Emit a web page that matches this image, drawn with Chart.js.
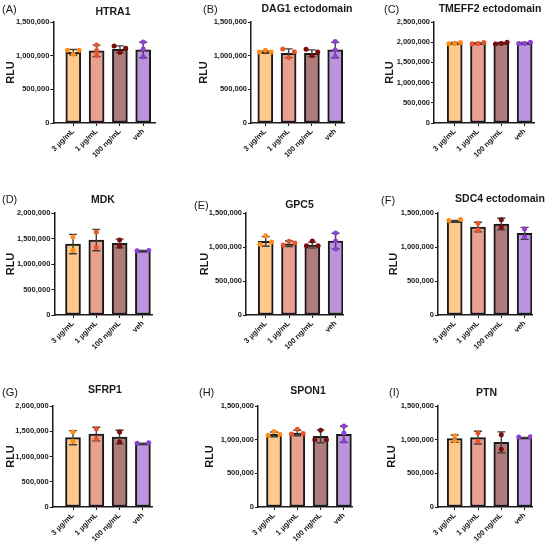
<!DOCTYPE html>
<html>
<head>
<meta charset="utf-8">
<script src="https://cdn.jsdelivr.net/npm/chart.js@4.4.1/dist/chart.umd.min.js"></script>
<style>
  html, body { margin: 0; padding: 0; background: #fff; }
  #wrap { position: relative; width: 546px; height: 543px; font-family: "Liberation Sans", Arial, sans-serif; color: #1a1a1a; overflow: hidden; }
  #wrap canvas { position: absolute; }
  .letter { position: absolute; font-size: 11px; transform: translateY(-50%); white-space: nowrap; }
  .title { position: absolute; font-size: 10.5px; font-weight: bold; transform: translate(-50%, -50%); white-space: nowrap; }
</style>
</head>
<body>
<div id="wrap"></div>
<script>
// groups on the x axis
const categories = ["3 µg/mL", "1 µg/mL", "100 ng/mL", "veh"];

// mean, SD and replicate values (RLU)
const htra1Mean = [1051000, 1071000, 1095000, 1085000];
const htra1Sd = [40000, 85000, 50000, 115000];
const htra1Points = [[1080000, 1020000, 1080000], [1160000, 1075000, 1000000], [1145000, 1046000, 1110000], [1204000, 1100000, 982000]];

const dag1Mean = [1050000, 1036000, 1036000, 1085000];
const dag1Sd = [15000, 65000, 50000, 115000];
const dag1Points = [[1055000, 1080000, 1055000], [1100000, 970000, 1060000], [1095000, 997000, 1056000], [1210000, 1085000, 987000]];

const tmeff2Mean = [1975000, 1972000, 1970000, 1975000];
const tmeff2Sd = [18000, 18000, 22000, 18000];
const tmeff2Points = [[1960000, 1970000, 1995000], [1960000, 1970000, 1995000], [1955000, 1965000, 2000000], [1965000, 1970000, 2000000]];

const mdkMean = [1390000, 1469000, 1403000, 1259000];
const mdkSd = [190000, 210000, 85000, 5000];
const mdkPoints = [[1530000, 1265000], [1626000, 1325000], [1469000, 1350000], [1259000, 1265000]];

const gpc5Mean = [1082000, 1048000, 1028000, 1087000];
const gpc5Sd = [70000, 40000, 45000, 115000];
const gpc5Points = [[1040000, 1165000, 1075000], [1085000, 1030000, 1060000], [1020000, 1087000, 1020000], [1205000, 1090000, 970000]];

const sdc4Mean = [1377000, 1293000, 1338000, 1200000];
const sdc4Sd = [12000, 70000, 85000, 88000];
const sdc4Points = [[1390000, 1405000], [1350000, 1250000], [1400000, 1290000], [1264000, 1146000]];

const sfrp1Mean = [1373000, 1445000, 1386000, 1254000];
const sfrp1Sd = [140000, 135000, 135000, 8000];
const sfrp1Points = [[1485000, 1300000], [1550000, 1346000], [1485000, 1287000], [1260000, 1274000]];

const spon1Mean = [1079000, 1099000, 1050000, 1080000];
const spon1Sd = [35000, 40000, 95000, 120000];
const spon1Points = [[1120000, 1065000, 1080000], [1084000, 1153000, 1090000], [1000000, 1139000, 1000000], [1203000, 1100000, 975000]];

const ptnMean = [1015000, 1030000, 960000, 1030000];
const ptnSd = [55000, 95000, 155000, 3000];
const ptnPoints = [[1060000, 985000], [1100000, 975000], [1074000, 856000], [1040000, 1044000]];

const barColors = ["#ffc98c", "#e8a190", "#b07b7b", "#bc94de"];
const pointColors = ["#ff8c1a", "#e8542c", "#7a0c0c", "#8c3fd1"];
const ink = "#1a1a1a";

// panel placement: cell origin, y-axis line, first bar centre, plot right, plot top/bottom (px in cell)
const panels = [
  { letter: "(A)", title: "HTRA1", mean: htra1Mean, sd: htra1Sd, pts: htra1Points, yMax: 1500000,
    cx: 0, cy: 0, h: 180, rlu: 10, axis: 53.3, first: 73.3, right: 155, top: 22, bottom: 123, lx: 2, ly: 9, tx: 113, ty: 11 },
  { letter: "(B)", title: "DAG1 ectodomain", mean: dag1Mean, sd: dag1Sd, pts: dag1Points, yMax: 1500000,
    cx: 182, cy: 0, h: 180, rlu: 22, axis: 69, first: 83.3, right: 162, top: 22, bottom: 123, lx: 21, ly: 9, tx: 125, ty: 8 },
  { letter: "(C)", title: "TMEFF2 ectodomain", mean: tmeff2Mean, sd: tmeff2Sd, pts: tmeff2Points, yMax: 2500000,
    cx: 364, cy: 0, h: 180, rlu: 26, axis: 70, first: 90.7, right: 170, top: 22, bottom: 123, lx: 20, ly: 9, tx: 126, ty: 8 },
  { letter: "(D)", title: "MDK", mean: mdkMean, sd: mdkSd, pts: mdkPoints, yMax: 2000000,
    cx: 0, cy: 180, h: 180, rlu: 11, axis: 54.3, first: 73, right: 152, top: 33, bottom: 135, lx: 2, ly: 19, tx: 103, ty: 19 },
  { letter: "(E)", title: "GPC5", mean: gpc5Mean, sd: gpc5Sd, pts: gpc5Points, yMax: 1500000,
    cx: 182, cy: 180, h: 180, rlu: 23, axis: 64, first: 83.7, right: 161, top: 33, bottom: 135, lx: 12, ly: 25, tx: 117.5, ty: 24 },
  { letter: "(F)", title: "SDC4 ectodomain", mean: sdc4Mean, sd: sdc4Sd, pts: sdc4Points, yMax: 1500000,
    cx: 364, cy: 180, h: 180, rlu: 30, axis: 74, first: 90.7, right: 168, top: 33, bottom: 135, lx: 17, ly: 20, tx: 136, ty: 18 },
  { letter: "(G)", title: "SFRP1", mean: sfrp1Mean, sd: sfrp1Sd, pts: sfrp1Points, yMax: 2000000,
    cx: 0, cy: 360, h: 183, rlu: 11, axis: 52.7, first: 73, right: 152, top: 46, bottom: 147, lx: 2, ly: 32, tx: 105, ty: 29 },
  { letter: "(H)", title: "SPON1", mean: spon1Mean, sd: spon1Sd, pts: spon1Points, yMax: 1500000,
    cx: 182, cy: 360, h: 183, rlu: 28, axis: 76, first: 92, right: 170, top: 46, bottom: 147, lx: 17, ly: 32, tx: 126, ty: 30 },
  { letter: "(I)", title: "PTN", mean: ptnMean, sd: ptnSd, pts: ptnPoints, yMax: 1500000,
    cx: 364, cy: 360, h: 183, rlu: 28, axis: 74, first: 90.7, right: 168, top: 46, bottom: 147, lx: 25, ly: 32, tx: 122.5, ty: 32 }
];

const step = 23.3;   // px between bar centres
const spread = 0.25; // sideways shift of overlapping dots, in category units
const rluFont = 11;

Chart.defaults.font.family = '"Liberation Sans", Arial, sans-serif';
Chart.defaults.color = ink;

// points that sit at about the same height are pushed left/right, like GraphPad does
function scatterData(groups, yMax) {
  const out = [];
  const thr = yMax * 0.03;
  groups.forEach((vals, g) => {
    const order = vals.map((v, k) => k).sort((a, b) => vals[a] - vals[b]);
    const rows = [];
    order.forEach(k => {
      const row = rows[rows.length - 1];
      if (row && vals[k] - vals[row[0]] <= thr) row.push(k);
      else rows.push([k]);
    });
    rows.forEach(row => {
      row.sort((a, b) => a - b);
      const n = row.length;
      row.forEach((k, j) => {
        let off = 0;
        if (n === 2) off = j ? spread : -spread;
        else if (n > 2) off = (j - (n - 1) / 2) * spread;
        out.push({ x: g + off, y: vals[k], g: g });
      });
    });
  });
  return out;
}

const errorBars = {
  id: "errorBars",
  afterDatasetDraw(chart, args, opts) {
    if (args.index !== 1) return;
    const { ctx } = chart;
    const x = chart.scales.x, y = chart.scales.y;
    ctx.save();
    ctx.strokeStyle = "#404040";
    ctx.lineWidth = 1.4;
    opts.mean.forEach((m, i) => {
      const px = x.getPixelForValue(i);
      const t = y.getPixelForValue(m + opts.sd[i]);
      const b = y.getPixelForValue(m - opts.sd[i]);
      ctx.beginPath();
      ctx.moveTo(px, t); ctx.lineTo(px, b);
      ctx.moveTo(px - 4, t); ctx.lineTo(px + 4, t);
      ctx.moveTo(px - 4, b); ctx.lineTo(px + 4, b);
      ctx.stroke();
    });
    ctx.restore();
  }
};

const wrap = document.getElementById("wrap");

panels.forEach(p => {
  const canvas = document.createElement("canvas");
  canvas.width = 182;
  canvas.height = p.h;
  canvas.style.left = p.cx + "px";
  canvas.style.top = p.cy + "px";
  wrap.appendChild(canvas);

  const letter = document.createElement("div");
  letter.className = "letter";
  letter.textContent = p.letter;
  letter.style.left = (p.cx + p.lx) + "px";
  letter.style.top = (p.cy + p.ly) + "px";
  wrap.appendChild(letter);

  const title = document.createElement("div");
  title.className = "title";
  title.textContent = p.title;
  title.style.left = (p.cx + p.tx) + "px";
  title.style.top = (p.cy + p.ty) + "px";
  wrap.appendChild(title);

  const pad = Math.max(0, p.rlu - (4 + rluFont * 0.6));
  const xMin = -(p.first - p.axis) / step;
  const xMax = xMin + (p.right - p.axis) / step;
  const tickFont = { size: 7.5, weight: "bold" };

  new Chart(canvas, {
    type: "bar",
    data: {
      datasets: [
        {
          type: "scatter",
          order: 1,
          data: scatterData(p.pts, p.yMax),
          pointRadius: 2.5,
          pointBorderWidth: 0,
          backgroundColor: c => pointColors[c.raw ? c.raw.g : 0],
          borderColor: c => pointColors[c.raw ? c.raw.g : 0]
        },
        {
          type: "bar",
          order: 2,
          data: p.mean.map((m, i) => ({ x: i, y: m })),
          backgroundColor: barColors,
          borderColor: ink,
          borderWidth: 2,
          borderSkipped: false,
          barThickness: 15
        }
      ]
    },
    options: {
      responsive: false,
      animation: false,
      layout: { padding: { left: pad, right: 182 - p.right, top: p.top, bottom: 0 } },
      plugins: {
        legend: { display: false },
        tooltip: { enabled: false },
        errorBars: { mean: p.mean, sd: p.sd }
      },
      scales: {
        x: {
          type: "linear",
          offset: false,
          min: xMin,
          max: xMax,
          afterBuildTicks: s => { s.ticks = categories.map((c, i) => ({ value: i })); },
          afterFit: s => {
            s.height = p.h - p.bottom;
            s.paddingLeft = 0;
            s.paddingRight = 0;
          },
          ticks: {
            callback: v => categories[v],
            minRotation: 45,
            maxRotation: 45,
            autoSkip: false,
            padding: 1,
            font: tickFont,
            color: ink
          },
          grid: { offset: false, drawOnChartArea: false, tickLength: 3, color: ink, lineWidth: 1 },
          border: { color: ink, width: 1.5 }
        },
        y: {
          min: 0,
          max: p.yMax,
          afterFit: s => {
            s.width = p.axis - pad;
            s.paddingTop = 0;
            s.paddingBottom = 0;
          },
          ticks: {
            stepSize: 500000,
            callback: v => v.toLocaleString("en-US"),
            padding: 1,
            font: tickFont,
            color: ink
          },
          grid: { drawOnChartArea: false, tickLength: 3, color: ink, lineWidth: 1 },
          border: { color: ink, width: 1.5 },
          title: {
            display: true,
            text: "RLU",
            font: { size: rluFont, weight: "bold" },
            color: ink,
            padding: { top: 4, bottom: 4 }
          }
        }
      }
    },
    plugins: [errorBars]
  });
});
</script>
</body>
</html>
